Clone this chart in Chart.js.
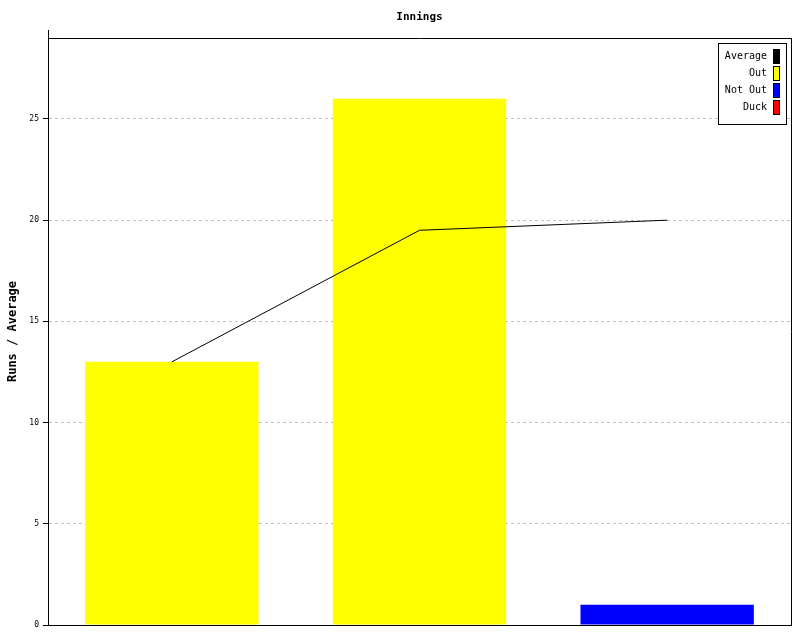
<!DOCTYPE html>
<html>
<head>
<meta charset="utf-8">
<script src="https://cdn.jsdelivr.net/npm/chart.js@4/dist/chart.umd.min.js"></script>
<style>
  html, body { margin: 0; padding: 0; background: #fff; }
  #wrap { width: 800px; height: 640px; }
</style>
</head>
<body>
<div id="wrap"><canvas id="innings" width="800" height="640"></canvas></div>
<script>
const innings = ["1", "2", "3"];
const outRuns = [13, 26, null];
const notOutRuns = [null, null, 1];
const duckRuns = [null, null, null];
const average = [13, 19.5, 20];
const yTicks = [0, 5, 10, 15, 20, 25];
const yMax = 29;

const MONO = "'DejaVu Sans Mono', 'Liberation Mono', monospace";

// frame, title and the boxed legend on the right
const framePlugin = {
    id: "frame",
    afterDraw(chart) {
        const ctx = chart.ctx;
        const a = chart.chartArea;
        ctx.save();
        ctx.strokeStyle = "#000";
        ctx.lineWidth = 1;
        ctx.beginPath();
        ctx.moveTo(Math.round(a.left) + 0.5, a.top - 8);
        ctx.lineTo(Math.round(a.left) + 0.5, a.top);
        ctx.moveTo(a.left, Math.round(a.top) + 0.5);
        ctx.lineTo(a.right, Math.round(a.top) + 0.5);
        ctx.moveTo(Math.round(a.right) + 0.5, a.top);
        ctx.lineTo(Math.round(a.right) + 0.5, a.bottom);
        ctx.stroke();

        ctx.fillStyle = "#000";
        ctx.font = "bold 11px " + MONO;
        ctx.textAlign = "center";
        ctx.textBaseline = "middle";
        ctx.fillText("Innings", (a.left + a.right) / 2, 17);

        // legend
        const items = chart.data.datasets;
        const bx = 718, by = 43, bw = 68, bh = 81;
        ctx.fillStyle = "#fff";
        ctx.fillRect(bx, by, bw, bh);
        ctx.strokeRect(bx + 0.5, by + 0.5, bw, bh);
        ctx.font = "10px " + MONO;
        ctx.textAlign = "right";
        items.forEach((ds, i) => {
            const cy = by + 13 + i * 17;
            ctx.fillStyle = "#000";
            ctx.fillText(ds.label, 767, cy);
            ctx.fillStyle = ds.legendColor;
            ctx.fillRect(773, cy - 7, 6, 14);
            ctx.strokeStyle = "#000";
            ctx.strokeRect(773.5, cy - 6.5, 6, 14);
        });
        ctx.restore();
    }
};

new Chart(document.getElementById("innings"), {
    data: {
        labels: innings,
        datasets: [
            {
                type: "line",
                label: "Average",
                data: average,
                borderColor: "#000",
                borderWidth: 1,
                pointRadius: 0,
                tension: 0,
                order: 0,
                legendColor: "#000"
            },
            {
                type: "bar",
                label: "Out",
                data: outRuns,
                backgroundColor: "#ffff00",
                order: 1,
                legendColor: "#ffff00"
            },
            {
                type: "bar",
                label: "Not Out",
                data: notOutRuns,
                backgroundColor: "#0000ff",
                order: 1,
                legendColor: "#0000ff"
            },
            {
                type: "bar",
                label: "Duck",
                data: duckRuns,
                backgroundColor: "#ff0000",
                order: 1,
                legendColor: "#ff0000"
            }
        ]
    },
    options: {
        responsive: false,
        animation: false,
        layout: { padding: { top: 38, right: 9, bottom: 0, left: 0 } },
        datasets: {
            bar: { grouped: false, barPercentage: 0.7, categoryPercentage: 1, borderWidth: 0 }
        },
        plugins: {
            legend: { display: false },
            title: { display: false },
            tooltip: { enabled: false }
        },
        scales: {
            x: {
                offset: true,
                ticks: { display: false },
                grid: { display: false },
                border: { color: "#000", width: 1 },
                afterFit(scale) { scale.height = 15; }
            },
            y: {
                min: 0,
                max: yMax,
                afterBuildTicks(scale) { scale.ticks = yTicks.map(v => ({ value: v })); },
                ticks: {
                    color: "#000",
                    font: { family: MONO, size: 8 },
                    padding: 4
                },
                grid: {
                    color: "#c0c0c0",
                    tickColor: "#000",
                    tickBorderDash: [],
                    tickLength: 5
                },
                border: { color: "#000", width: 1, dash: [3, 3] },
                title: {
                    display: true,
                    text: "Runs / Average",
                    color: "#000",
                    font: { family: MONO, size: 12, weight: "bold" },
                    padding: { top: 6, bottom: 0 }
                },
                afterFit(scale) { scale.width = 48; }
            }
        }
    },
    plugins: [framePlugin]
});
</script>
</body>
</html>
